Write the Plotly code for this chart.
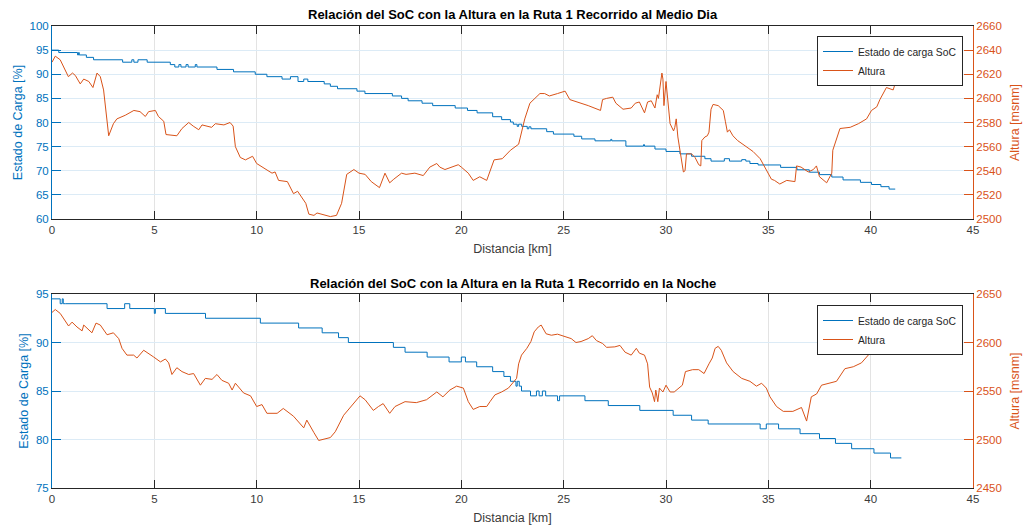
import plotly.graph_objects as go

# ---------------- Recorrido al Medio Dia ----------------
# Estado de carga (escalones): distancia de inicio de cada nivel [km] y SoC [%]
soc_dia_km = [0, 0.33, 1.25, 1.3, 1.33, 1.68, 2.03, 3.45, 3.9, 4.0, 4.2, 4.65,
              5.78, 6.0, 6.2, 6.3, 6.55, 6.65, 7.0, 7.08, 8.06, 8.87, 9.93,
              10.5, 11.24, 11.65, 12.02, 12.3, 12.5, 13.3, 13.6, 13.95, 14.9,
              15.29, 16.63, 17.08, 17.4, 18.08, 18.6, 19.7, 20.3, 20.77, 21.53,
              21.97, 22.4, 22.54, 22.73, 22.8, 22.95, 23.22, 23.3, 23.4, 24.17,
              24.5, 25.5, 25.88, 26.53, 27.3, 27.35, 28.04, 28.9, 28.95, 29.46,
              30.0, 30.68, 31.25, 31.9, 32.2, 32.85, 33.1, 33.7, 33.9, 34.1,
              34.5, 35.6, 36.4, 37.0, 37.5, 38.1, 38.65, 39.5, 40.04, 40.5,
              40.9, 41.2]
soc_dia = [95, 94.5, 94, 94.5, 94, 93.5, 93, 92.5, 93, 92.5, 93, 92.5,
           92, 91.5, 92, 91.5, 92, 91.5, 92, 91.5, 91, 90.5, 90,
           89.5, 89, 89.5, 88.5, 89, 88.5, 88, 87.5, 87, 86.5,
           86, 85.5, 85, 84.5, 84, 83.5, 83, 82.5, 82, 81.2,
           80.6, 80.1, 79.65, 79.2, 79.65, 79.2, 78.7, 79.1, 78.7, 78.1,
           77.6, 77.15, 76.6, 76.2, 76.5, 76.2, 75.1, 75.4, 75.1, 74.5,
           74, 73.5, 73, 72.5, 72, 72.5, 72, 72.3, 72, 71.5,
           71.2, 70.7, 70.2, 69.7, 69.2, 68.7, 68.1, 67.6, 67.15, 66.7,
           66.2, 66.2]

# Altura del recorrido [msnm]
alt_dia_km = [0, 0.16, 0.4, 0.8, 1.0, 1.14, 1.38, 1.55, 1.8, 2.0, 2.2, 2.36,
              2.52, 2.77, 3.0, 3.17, 3.58, 4.0, 4.3, 4.56, 4.72, 5.05, 5.2,
              5.46, 5.57, 6.1, 6.35, 6.68, 6.9, 7.17, 7.33, 7.65, 7.8, 7.98,
              8.4, 8.7, 8.85, 8.96, 9.2, 9.45, 9.8, 10.0, 10.35, 10.75, 10.9,
              11.07, 11.5, 11.8, 12.0, 12.4, 12.55, 12.8, 12.95, 13.6, 13.9,
              14.15, 14.4, 14.75, 15.0, 15.3, 15.6, 16.0, 16.27, 16.5, 16.7,
              17.08, 17.3, 17.73, 18.14, 18.46, 18.8, 18.95, 19.2, 19.5, 19.85,
              20.0, 20.34, 20.58, 20.9, 21.24, 21.4, 21.6, 22.0, 22.4, 22.8,
              22.96, 23.1, 23.35, 23.67, 23.84, 24.07, 24.3, 24.7, 25.07, 25.3,
              25.7, 26.2, 26.8, 26.9, 27.1, 27.4, 27.55, 27.9, 28.3, 28.5,
              28.7, 28.95, 29.1, 29.28, 29.46, 29.57, 29.63, 29.7, 29.8, 29.85,
              29.9, 30.0, 30.08, 30.2, 30.37, 30.43, 30.5, 30.58, 30.7, 30.85,
              30.93, 31.0, 31.25, 31.42, 31.6, 31.7, 31.75, 31.9, 32.02, 32.1,
              32.2, 32.3, 32.55, 32.8, 32.9, 33.0, 33.1, 33.27, 33.5, 33.9,
              34.25, 34.6, 34.9, 35.15, 35.3, 35.56, 35.9, 36.3, 36.38, 36.6,
              36.95, 37.2, 37.35, 37.5, 37.85, 38.1, 38.15, 38.5, 39.0, 39.4,
              39.8, 40.04, 40.3, 40.45, 40.77, 41.1, 41.23]
alt_dia = [2630, 2635, 2632, 2618, 2621, 2619, 2612, 2616, 2614, 2609, 2621, 2618,
           2607, 2569, 2579, 2583, 2586, 2590, 2589, 2585, 2589, 2590, 2585,
           2581, 2570, 2569, 2575, 2580, 2577, 2574, 2578, 2577, 2576, 2579,
           2578, 2580, 2577, 2560, 2551, 2549, 2552, 2546, 2542, 2538, 2539,
           2532, 2531, 2521, 2523, 2513, 2504, 2503, 2505, 2502, 2503,
           2513, 2537, 2541, 2538, 2537, 2531, 2526, 2538, 2530, 2533,
           2538, 2537, 2538, 2536, 2543, 2546, 2543, 2541, 2543, 2545,
           2543, 2538, 2532, 2535, 2532, 2540, 2549, 2550, 2557, 2562,
           2574, 2583, 2596, 2601, 2604, 2604, 2602, 2604, 2606, 2599,
           2597, 2594, 2590, 2599, 2600, 2601, 2596, 2591, 2592, 2596,
           2597, 2588, 2597, 2598, 2592, 2603, 2600, 2610, 2621, 2616,
           2594, 2614, 2600, 2579, 2573, 2576, 2583, 2568, 2555, 2539,
           2540, 2554, 2554, 2551, 2545, 2544, 2565, 2568, 2569, 2572,
           2591, 2595, 2594, 2590, 2581, 2572, 2574, 2569, 2565, 2560,
           2556, 2550, 2541, 2533, 2532, 2529, 2532, 2531, 2544, 2543,
           2539, 2541, 2544, 2535, 2530, 2538, 2557, 2575, 2576, 2579,
           2583, 2590, 2593, 2599, 2609, 2607, 2614]

# ---------------- Recorrido en la Noche ----------------
soc_noche_km = [0, 0.4, 0.5, 0.55, 0.65, 2.69, 3.55, 3.8, 5.0, 5.05, 5.54,
                7.5, 10.18, 12.05, 13.2, 14.0, 14.48, 16.68, 17.25, 18.33,
                19.4, 20.0, 20.2, 20.75, 21.53, 22.08, 22.4, 22.67, 22.73,
                22.83, 22.94, 23.38, 23.67, 23.8, 23.96, 24.12, 24.7, 24.8,
                26.04, 27.18, 28.72, 30.35, 31.25, 32.06, 34.6, 34.9, 35.5,
                36.55, 37.5, 38.28, 39.07, 40.16, 40.97, 41.5]
soc_noche = [94.5, 94.0, 94.5, 94.0, 94.0, 93.5, 94.0, 93.5, 93.0, 93.5, 93.0,
             92.5, 92.0, 91.5, 91.0, 90.5, 90.0, 89.5, 89.0, 88.5,
             88.0, 88.5, 88.0, 87.5, 87.0, 86.5, 86.0, 85.5, 86.0,
             85.5, 85.0, 84.5, 85.0, 84.5, 85.0, 84.5, 84.0, 84.5,
             84.0, 83.5, 83.0, 82.5, 82.0, 81.6, 81.1, 81.6, 81.1,
             80.6, 80.1, 79.6, 79.05, 78.6, 78.1, 78.1]

alt_noche_km = [0, 0.16, 0.4, 0.65, 0.81, 0.98, 1.22, 1.47, 1.55, 1.95, 2.15,
                2.36, 2.69, 3.0, 3.26, 3.42, 3.66, 3.99, 4.15, 4.48, 4.72, 4.97,
                5.3, 5.54, 5.7, 5.86, 6.1, 6.35, 6.68, 6.92, 7.25, 7.49, 7.82,
                8.06, 8.3, 8.63, 8.8, 8.96, 9.36, 9.7, 10.0, 10.26, 10.5, 11.0,
                11.3, 11.8, 12.3, 12.45, 12.8, 13.03, 13.6, 13.84, 14.25, 14.72,
                15.05, 15.3, 15.7, 15.95, 16.18, 16.5, 16.76, 17.25, 17.8, 18.3,
                18.8, 19.1, 19.44, 19.77, 20.1, 20.34, 20.58, 20.9, 21.24, 21.4,
                21.64, 21.97, 22.3, 22.7, 22.8, 22.94, 23.2, 23.4, 23.56, 23.76,
                23.9, 24.14, 24.4, 24.7, 25.0, 25.37, 25.6, 25.85, 26.2, 26.4,
                26.6, 26.9, 27.1, 27.5, 27.75, 28.0, 28.3, 28.55, 28.7, 28.95,
                29.1, 29.2, 29.33, 29.44, 29.5, 29.6, 29.68, 29.85, 30.0, 30.2,
                30.4, 30.8, 30.95, 31.3, 31.6, 31.86, 32.1, 32.26, 32.4, 32.55,
                32.7, 32.96, 33.28, 33.7, 34.1, 34.42, 34.67, 34.9, 35.08, 35.4,
                35.73, 36.2, 36.62, 36.87, 37.1, 37.36, 37.6, 37.93, 38.33,
                38.74, 39.15, 39.55, 40.05, 40.2, 40.45, 40.7, 40.85, 41.2,
                41.5]
alt_noche = [2631, 2634, 2630, 2622, 2617, 2621, 2616, 2612, 2618, 2610, 2620,
             2618, 2608, 2610, 2604, 2594, 2587, 2587, 2584, 2592, 2589, 2585,
             2580, 2583, 2579, 2567, 2574, 2570, 2567, 2568, 2556, 2563, 2562,
             2567, 2561, 2558, 2551, 2558, 2548, 2545, 2534, 2536, 2527, 2527,
             2532, 2524, 2512, 2520, 2507, 2499, 2502, 2508, 2525, 2537,
             2545, 2541, 2530, 2534, 2537, 2527, 2534, 2539, 2538, 2541,
             2549, 2544, 2551, 2555, 2553, 2539, 2531, 2534, 2534, 2539,
             2546, 2549, 2553, 2563, 2578, 2587, 2594, 2601, 2611, 2616,
             2618, 2609, 2607.5, 2608.6, 2606.5, 2604, 2600, 2601, 2604, 2607,
             2602, 2599, 2595, 2595.5, 2597, 2590, 2587, 2594, 2589, 2587,
             2578, 2554, 2548, 2539, 2551, 2539, 2553, 2549, 2556, 2549,
             2549, 2556, 2570, 2572, 2572, 2568, 2578, 2584, 2594, 2596,
             2592, 2579, 2570, 2563, 2560, 2555, 2558, 2553, 2544, 2534,
             2529, 2529, 2533, 2519, 2544, 2547, 2556, 2558, 2560,
             2573, 2575, 2579, 2591, 2599, 2598, 2606, 2610, 2618,
             2625]

BLUE = "#0072BD"
ORANGE = "#D95319"
DARK = "#262626"
FONT = "Liberation Sans, Arial, Helvetica, sans-serif"

fig = go.Figure()

# Medio dia
fig.add_trace(go.Scatter(x=soc_dia_km, y=soc_dia, mode="lines", line_shape="hv",
                         line=dict(color=BLUE, width=1), name="Estado de carga SoC",
                         xaxis="x", yaxis="y", legend="legend"))
fig.add_trace(go.Scatter(x=alt_dia_km, y=alt_dia, mode="lines",
                         line=dict(color=ORANGE, width=1), name="Altura",
                         xaxis="x", yaxis="y2", legend="legend"))
# Noche
fig.add_trace(go.Scatter(x=soc_noche_km, y=soc_noche, mode="lines", line_shape="hv",
                         line=dict(color=BLUE, width=1), name="Estado de carga SoC",
                         xaxis="x2", yaxis="y3", legend="legend2"))
fig.add_trace(go.Scatter(x=alt_noche_km, y=alt_noche, mode="lines",
                         line=dict(color=ORANGE, width=1), name="Altura",
                         xaxis="x2", yaxis="y4", legend="legend2"))

xdom = [52 / 1024, 973 / 1024]
top_dom = [1 - 219 / 527, 1 - 26 / 527]
bot_dom = [1 - 488 / 527, 1 - 294 / 527]

TICK_SIZE = 11.5
LABEL_SIZE = 12.5

xcommon = dict(domain=xdom, range=[0, 45], tickvals=list(range(0, 50, 5)),
               automargin=False,
               showline=True, linecolor=DARK, linewidth=1, mirror="ticks",
               ticks="inside", ticklen=8, tickcolor=DARK,
               showgrid=True, gridcolor="#e3e3e3", gridwidth=1, zeroline=False,
               tickfont=dict(family=FONT, size=TICK_SIZE, color="#3a3a3a"),
               title=dict(text="Distancia [km]", standoff=9,
                          font=dict(family=FONT, size=LABEL_SIZE, color="#3a3a3a")))

def left_axis(rng, step, dom, anchor):
    return dict(domain=dom, range=rng, dtick=step, tick0=rng[0], anchor=anchor,
                automargin=False,
                showline=True, linecolor=BLUE, linewidth=1, ticks="inside",
                ticklen=9, tickcolor=BLUE, showgrid=True, gridcolor="#dcebf6",
                zeroline=False, tickfont=dict(family=FONT, size=TICK_SIZE, color=BLUE),
                title=dict(text="Estado de Carga [%]", standoff=4,
                           font=dict(family=FONT, size=LABEL_SIZE, color=BLUE)))

def right_axis(rng, step, over, anchor):
    return dict(range=rng, dtick=step, tick0=rng[0], overlaying=over, side="right",
                anchor=anchor, automargin=False,
                showline=True, linecolor=ORANGE, linewidth=1,
                ticks="inside", ticklen=9, tickcolor=ORANGE, showgrid=False,
                zeroline=False, tickfont=dict(family=FONT, size=TICK_SIZE, color=ORANGE),
                title=dict(text="Altura [msnm]", standoff=9,
                           font=dict(family=FONT, size=LABEL_SIZE, color=ORANGE)))

legend_style = dict(bgcolor="white", bordercolor=DARK, borderwidth=1,
                    font=dict(family=FONT, size=10.3, color=DARK),
                    xanchor="right", yanchor="top", x=963 / 1024,
                    tracegroupgap=0, itemwidth=30)

fig.update_layout(
    width=1024, height=527, margin=dict(l=0, r=0, t=0, b=0, autoexpand=False),
    paper_bgcolor="white", plot_bgcolor="white",
    font=dict(family=FONT, color=DARK),
    showlegend=True,
    xaxis=dict(xcommon, anchor="y"),
    xaxis2=dict(xcommon, anchor="y3"),
    yaxis=left_axis([60, 100], 5, top_dom, "x"),
    yaxis2=right_axis([2500, 2660], 20, "y", "x"),
    yaxis3=left_axis([75, 95], 5, bot_dom, "x2"),
    yaxis4=right_axis([2450, 2650], 50, "y3", "x2"),
    legend=dict(legend_style, y=1 - 36 / 527),
    legend2=dict(legend_style, y=1 - 305 / 527),
    annotations=[
        dict(text="<b>Relación del SoC con la Altura en la Ruta 1 Recorrido al Medio Dia</b>",
             x=0.5005, y=1 - 15 / 527, xref="paper", yref="paper", showarrow=False,
             xanchor="center", yanchor="middle", font=dict(family=FONT, size=13, color="black")),
        dict(text="<b>Relación del SoC con la Altura en la Ruta 1 Recorrido en la Noche</b>",
             x=0.5005, y=1 - 283 / 527, xref="paper", yref="paper", showarrow=False,
             xanchor="center", yanchor="middle", font=dict(family=FONT, size=13, color="black")),
    ],
)

fig.write_html("out.html")
